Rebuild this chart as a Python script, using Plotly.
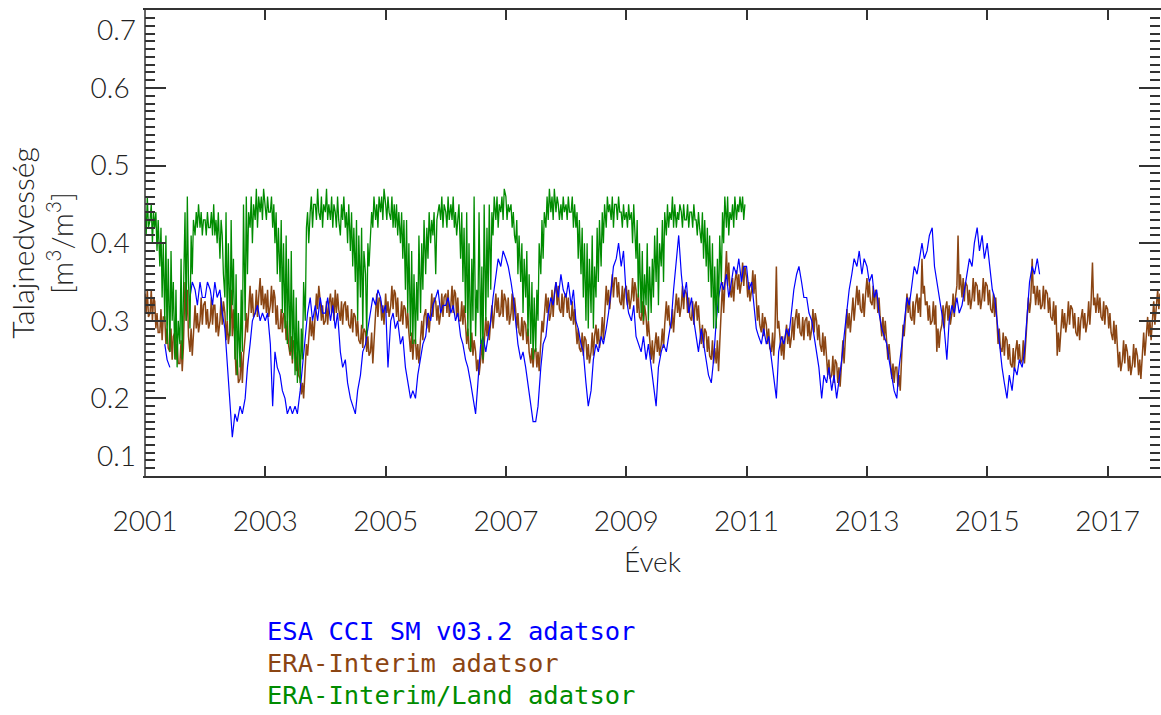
import plotly.graph_objects as go
import pandas as pd

START = "2001-01-01"

# ERA-Interim, 2001-2017, four samples per month (days 1, 8, 15, 22)
era_interim = [
    # 2001
    0.335,0.31,0.34,0.305, 0.31,0.34,0.30,0.33, 0.325,0.29,0.31,0.285, 0.285,0.315,0.275,0.305,
    0.305,0.27,0.29,0.265, 0.26,0.29,0.25,0.28, 0.285,0.25,0.27,0.245, 0.245,0.275,0.235,0.265,
    0.35,0.30,0.34,0.28, 0.26,0.29,0.255,0.285, 0.32,0.29,0.31,0.285, 0.30,0.33,0.295,0.32,
    # 2002
    0.325,0.295,0.315,0.29, 0.30,0.33,0.295,0.32, 0.32,0.285,0.31,0.28, 0.30,0.33,0.295,0.325,
    0.31,0.275,0.30,0.27, 0.29,0.34,0.28,0.315, 0.255,0.23,0.25,0.22, 0.225,0.26,0.22,0.255,
    0.28,0.31,0.285,0.32, 0.345,0.31,0.335,0.305, 0.31,0.34,0.305,0.33, 0.355,0.32,0.345,0.315,
    # 2003
    0.335,0.31,0.34,0.305, 0.32,0.345,0.31,0.34, 0.33,0.295,0.32,0.29, 0.29,0.315,0.285,0.31,
    0.305,0.275,0.30,0.27, 0.255,0.28,0.245,0.275, 0.265,0.235,0.26,0.23, 0.225,0.205,0.22,0.20,
    0.24,0.27,0.255,0.28, 0.305,0.28,0.30,0.275, 0.31,0.335,0.315,0.345, 0.325,0.30,0.32,0.295,
    # 2004
    0.30,0.325,0.295,0.32, 0.335,0.31,0.33,0.30, 0.34,0.31,0.335,0.315, 0.30,0.325,0.295,0.32,
    0.325,0.30,0.32,0.295, 0.29,0.315,0.285,0.31, 0.305,0.28,0.30,0.275, 0.27,0.295,0.265,0.29,
    0.285,0.26,0.28,0.255, 0.26,0.285,0.245,0.28, 0.31,0.335,0.305,0.33, 0.325,0.30,0.32,0.295,
    # 2005
    0.335,0.31,0.325,0.305, 0.32,0.345,0.315,0.34, 0.335,0.305,0.33,0.30, 0.30,0.325,0.295,0.32,
    0.315,0.29,0.31,0.285, 0.26,0.285,0.25,0.275, 0.275,0.25,0.27,0.245, 0.28,0.30,0.275,0.305,
    0.315,0.29,0.31,0.285, 0.31,0.335,0.305,0.33, 0.325,0.30,0.32,0.295, 0.31,0.335,0.305,0.33,
    # 2006
    0.335,0.31,0.34,0.305, 0.32,0.345,0.31,0.34, 0.335,0.305,0.33,0.30, 0.30,0.325,0.295,0.32,
    0.295,0.27,0.29,0.265, 0.26,0.285,0.255,0.275, 0.26,0.235,0.25,0.23, 0.25,0.275,0.245,0.27,
    0.305,0.28,0.30,0.275, 0.295,0.32,0.29,0.315, 0.335,0.31,0.33,0.305, 0.31,0.34,0.305,0.335,
    # 2007
    0.325,0.30,0.33,0.295, 0.31,0.335,0.30,0.33, 0.315,0.29,0.31,0.285, 0.28,0.305,0.275,0.30,
    0.295,0.27,0.29,0.26, 0.245,0.265,0.24,0.26, 0.265,0.24,0.26,0.235, 0.28,0.30,0.285,0.305,
    0.335,0.31,0.33,0.30, 0.31,0.34,0.305,0.335, 0.35,0.32,0.345,0.315, 0.31,0.335,0.305,0.33,
    # 2008
    0.335,0.31,0.33,0.305, 0.30,0.325,0.295,0.315, 0.295,0.27,0.29,0.265, 0.26,0.285,0.255,0.28,
    0.275,0.25,0.27,0.245, 0.26,0.285,0.255,0.28, 0.295,0.27,0.29,0.265, 0.28,0.305,0.275,0.30,
    0.345,0.32,0.34,0.315, 0.335,0.36,0.33,0.355, 0.355,0.33,0.35,0.325, 0.32,0.345,0.315,0.34,
    # 2009
    0.345,0.32,0.34,0.315, 0.33,0.355,0.325,0.35, 0.34,0.31,0.335,0.305, 0.30,0.325,0.295,0.32,
    0.305,0.28,0.30,0.275, 0.25,0.275,0.245,0.265, 0.285,0.26,0.28,0.255, 0.27,0.29,0.265,0.295,
    0.325,0.30,0.32,0.295, 0.29,0.315,0.285,0.31, 0.335,0.31,0.33,0.305, 0.32,0.345,0.315,0.34,
    # 2010
    0.335,0.31,0.33,0.305, 0.30,0.325,0.295,0.32, 0.325,0.30,0.32,0.295, 0.27,0.295,0.265,0.29,
    0.285,0.26,0.28,0.255, 0.25,0.275,0.245,0.265, 0.245,0.275,0.235,0.27, 0.32,0.35,0.31,0.345,
    0.39,0.345,0.375,0.34, 0.33,0.355,0.325,0.35, 0.365,0.34,0.36,0.335, 0.35,0.375,0.345,0.37,
    # 2011
    0.355,0.33,0.35,0.325, 0.34,0.365,0.335,0.36, 0.325,0.30,0.32,0.295, 0.285,0.31,0.28,0.305,
    0.295,0.27,0.29,0.265, 0.26,0.285,0.255,0.28, 0.37,0.29,0.30,0.275, 0.255,0.28,0.25,0.275,
    0.295,0.27,0.29,0.265, 0.28,0.305,0.275,0.30, 0.315,0.29,0.31,0.285, 0.28,0.305,0.275,0.30,
    # 2012
    0.305,0.28,0.30,0.275, 0.29,0.315,0.285,0.31, 0.30,0.275,0.295,0.27, 0.26,0.285,0.255,0.28,
    0.255,0.23,0.25,0.225, 0.23,0.255,0.22,0.25, 0.245,0.22,0.24,0.215, 0.25,0.275,0.245,0.27,
    0.315,0.29,0.31,0.285, 0.305,0.33,0.30,0.325, 0.345,0.32,0.34,0.315, 0.31,0.335,0.305,0.33,
    # 2013
    0.355,0.33,0.35,0.325, 0.32,0.345,0.315,0.34, 0.335,0.31,0.33,0.305, 0.28,0.305,0.275,0.30,
    0.275,0.25,0.27,0.245, 0.225,0.245,0.22,0.24, 0.24,0.215,0.23,0.21, 0.27,0.295,0.28,0.30,
    0.335,0.31,0.33,0.305, 0.30,0.325,0.295,0.32, 0.335,0.31,0.33,0.305, 0.38,0.335,0.345,0.32,
    # 2014
    0.325,0.30,0.32,0.295, 0.30,0.325,0.295,0.32, 0.26,0.29,0.265,0.285, 0.295,0.32,0.29,0.315,
    0.325,0.30,0.32,0.295, 0.31,0.335,0.305,0.33, 0.345,0.41,0.34,0.36, 0.33,0.355,0.325,0.35,
    0.345,0.32,0.34,0.315, 0.33,0.355,0.325,0.35, 0.345,0.32,0.34,0.315, 0.33,0.355,0.325,0.35,
    # 2015
    0.345,0.32,0.34,0.315, 0.31,0.335,0.305,0.33, 0.295,0.27,0.29,0.265, 0.26,0.285,0.255,0.28,
    0.275,0.25,0.27,0.245, 0.24,0.265,0.235,0.26, 0.275,0.25,0.27,0.245, 0.25,0.275,0.245,0.27,
    0.30,0.33,0.31,0.325, 0.38,0.335,0.345,0.32, 0.345,0.32,0.34,0.315, 0.32,0.345,0.315,0.34,
    # 2016
    0.335,0.31,0.33,0.305, 0.30,0.325,0.295,0.32, 0.255,0.285,0.26,0.28, 0.315,0.29,0.31,0.285,
    0.30,0.325,0.295,0.32, 0.315,0.29,0.31,0.285, 0.28,0.305,0.275,0.30, 0.315,0.29,0.31,0.285,
    0.30,0.325,0.295,0.32, 0.375,0.32,0.33,0.31, 0.335,0.31,0.33,0.305, 0.30,0.325,0.295,0.32,
    # 2017
    0.315,0.29,0.31,0.285, 0.275,0.30,0.27,0.295, 0.265,0.24,0.26,0.235, 0.25,0.275,0.245,0.27,
    0.26,0.235,0.255,0.23, 0.245,0.27,0.24,0.265, 0.255,0.23,0.25,0.225, 0.26,0.285,0.255,0.28,
    0.305,0.28,0.30,0.275, 0.30,0.325,0.295,0.32, 0.34,0.315,0.335,0.31, 0.315,0.34,0.31,0.335,
]

# ERA-Interim/Land, 2001-2010, four samples per month
era_land = [
    # 2001
    0.44,0.41,0.46,0.42, 0.43,0.45,0.40,0.44, 0.42,0.44,0.39,0.43, 0.37,0.42,0.33,0.40,
    0.30,0.41,0.27,0.38, 0.26,0.39,0.30,0.35, 0.25,0.34,0.24,0.30, 0.27,0.38,0.25,0.33,
    0.44,0.30,0.46,0.35, 0.29,0.41,0.36,0.43, 0.41,0.44,0.42,0.45, 0.42,0.44,0.41,0.43,
    # 2002
    0.43,0.41,0.44,0.42, 0.42,0.44,0.41,0.45, 0.41,0.43,0.40,0.44, 0.38,0.43,0.41,0.36,
    0.33,0.44,0.30,0.40, 0.28,0.43,0.32,0.38, 0.25,0.36,0.23,0.31, 0.24,0.34,0.26,0.45,
    0.30,0.46,0.36,0.44, 0.42,0.46,0.40,0.45, 0.43,0.47,0.42,0.46, 0.44,0.46,0.43,0.47,
    # 2003
    0.45,0.43,0.46,0.44, 0.44,0.46,0.42,0.45, 0.40,0.44,0.36,0.42, 0.35,0.43,0.31,0.40,
    0.29,0.41,0.27,0.38, 0.26,0.39,0.25,0.34, 0.23,0.33,0.22,0.30, 0.22,0.29,0.25,0.35,
    0.30,0.42,0.44,0.40, 0.44,0.46,0.42,0.45, 0.45,0.43,0.47,0.44, 0.43,0.46,0.42,0.45,
    # 2004
    0.44,0.47,0.43,0.45, 0.43,0.46,0.42,0.45, 0.44,0.42,0.46,0.43, 0.41,0.45,0.43,0.46,
    0.42,0.44,0.40,0.45, 0.39,0.44,0.37,0.42, 0.35,0.43,0.30,0.41, 0.33,0.42,0.29,0.39,
    0.36,0.28,0.40,0.37, 0.41,0.44,0.42,0.46, 0.43,0.45,0.42,0.46, 0.44,0.46,0.43,0.47,
    # 2005
    0.45,0.43,0.46,0.44, 0.43,0.46,0.42,0.45, 0.42,0.45,0.41,0.44, 0.40,0.44,0.38,0.43,
    0.34,0.43,0.31,0.40, 0.28,0.39,0.27,0.36, 0.27,0.35,0.30,0.41, 0.31,0.40,0.34,0.43,
    0.36,0.42,0.38,0.44, 0.40,0.43,0.41,0.44, 0.36,0.43,0.44,0.45, 0.43,0.46,0.42,0.45,
    # 2006
    0.44,0.42,0.46,0.43, 0.45,0.43,0.46,0.42, 0.44,0.41,0.43,0.45, 0.38,0.44,0.35,0.42,
    0.31,0.44,0.28,0.40, 0.26,0.38,0.30,0.46, 0.28,0.34,0.31,0.44, 0.27,0.37,0.25,0.45,
    0.30,0.42,0.33,0.45, 0.34,0.44,0.41,0.46, 0.43,0.46,0.42,0.45, 0.44,0.46,0.43,0.47,
    # 2007
    0.46,0.43,0.45,0.44, 0.45,0.42,0.44,0.41, 0.40,0.43,0.36,0.41, 0.35,0.40,0.31,0.38,
    0.33,0.39,0.28,0.36, 0.27,0.35,0.25,0.33, 0.26,0.34,0.30,0.40, 0.36,0.43,0.38,0.44,
    0.42,0.46,0.43,0.47, 0.44,0.46,0.43,0.47, 0.44,0.46,0.45,0.43, 0.45,0.43,0.46,0.44,
    # 2008
    0.45,0.43,0.46,0.44, 0.44,0.46,0.42,0.45, 0.42,0.44,0.38,0.43, 0.36,0.42,0.33,0.40,
    0.30,0.40,0.29,0.38, 0.31,0.41,0.29,0.37, 0.33,0.42,0.35,0.43, 0.37,0.44,0.40,0.45,
    0.42,0.46,0.44,0.45, 0.43,0.46,0.42,0.45, 0.45,0.43,0.46,0.44, 0.44,0.42,0.45,0.43,
    # 2009
    0.44,0.42,0.45,0.43, 0.44,0.40,0.45,0.41, 0.38,0.43,0.33,0.40, 0.31,0.39,0.30,0.36,
    0.32,0.40,0.30,0.37, 0.31,0.38,0.33,0.41, 0.35,0.42,0.32,0.40, 0.37,0.43,0.35,0.44,
    0.41,0.45,0.42,0.44, 0.43,0.46,0.42,0.45, 0.42,0.44,0.43,0.45, 0.44,0.42,0.45,0.43,
    # 2010
    0.43,0.45,0.42,0.44, 0.44,0.42,0.45,0.43, 0.43,0.41,0.44,0.42, 0.40,0.44,0.38,0.43,
    0.37,0.42,0.35,0.41, 0.33,0.40,0.29,0.37, 0.29,0.38,0.31,0.41, 0.35,0.44,0.40,0.46,
    0.42,0.46,0.41,0.44, 0.43,0.45,0.42,0.46, 0.43,0.45,0.44,0.46, 0.44,0.46,0.43,0.45,
]

# ESA CCI SM v03.2, 2001-2015, two samples per month (days 1, 15); None = missing
esa_cci = [
    None,None,None,None,None,None,None,None,0.27,0.25,0.24,None,None,None,None,None,None,None,0.33,0.35,0.34,0.32,0.35,0.33,
    0.33,0.35,0.34,0.32,0.35,0.33,0.34,0.31,0.29,0.25,0.20,0.15,0.18,0.17,0.19,0.18,0.20,0.24,0.27,0.30,0.31,0.32,0.30,0.31,
    0.30,0.31,0.27,0.19,0.26,0.24,0.23,0.21,0.20,0.18,0.19,0.18,0.19,0.18,0.21,0.24,0.28,0.31,0.33,0.30,0.32,0.30,0.33,0.31,
    0.31,0.33,0.30,0.32,0.29,0.31,0.26,0.24,0.25,0.22,0.20,0.19,0.18,0.21,0.23,0.26,0.27,0.29,0.31,0.33,0.32,0.34,0.33,0.31,
    0.32,0.24,0.30,0.31,0.29,0.30,0.27,0.28,0.24,0.22,0.20,0.21,0.20,0.23,0.25,0.27,0.28,0.31,0.30,0.32,0.33,0.34,0.31,0.32,
    0.32,0.33,0.31,0.32,0.30,0.31,0.28,0.27,0.25,0.24,0.22,0.20,0.18,0.22,0.27,0.28,0.26,0.28,0.30,0.33,0.36,0.38,0.37,0.39,
    0.38,0.37,0.35,0.33,0.30,0.27,0.25,0.26,0.24,0.22,0.19,0.17,0.17,0.19,0.24,0.27,0.28,0.31,0.33,0.32,0.35,0.33,0.36,0.34,
    0.33,0.35,0.32,0.34,0.30,0.29,0.27,0.26,0.22,0.19,0.21,0.25,0.27,0.26,0.28,0.27,0.29,0.31,0.34,0.37,0.38,0.40,0.37,0.39,
    0.33,0.31,0.30,0.32,0.28,0.27,0.26,0.28,0.25,0.27,0.24,0.22,0.19,0.24,0.26,0.27,0.26,0.28,0.30,0.34,0.38,0.41,0.36,0.33,
    0.35,0.31,0.33,0.30,0.28,0.26,0.29,0.27,0.25,0.23,0.22,0.25,0.30,0.33,0.35,0.34,0.36,0.33,0.35,0.37,0.36,0.38,0.35,0.37,
    0.37,0.34,0.35,0.32,0.29,0.28,0.27,0.29,0.27,0.28,0.25,0.23,0.20,0.26,0.28,0.27,0.29,0.28,0.31,0.34,0.36,0.37,0.35,0.33,
    0.33,0.31,0.30,0.28,0.26,0.24,0.20,0.23,0.22,0.24,0.21,0.23,0.20,0.22,0.25,0.28,0.31,0.34,0.36,0.38,0.37,0.39,0.36,0.38,
    0.37,0.35,0.36,0.33,0.34,0.31,0.29,0.28,0.27,0.25,0.23,0.21,0.20,0.24,0.27,0.30,0.33,0.32,0.35,0.37,0.36,0.38,0.40,0.38,
    0.39,0.41,0.42,0.37,0.35,0.33,0.31,0.29,0.25,0.30,0.32,0.31,0.33,0.31,0.32,0.34,0.36,0.38,0.37,0.40,0.42,0.39,0.41,0.38,
    0.40,0.37,0.34,0.33,0.30,0.27,0.24,0.22,0.20,0.23,0.21,0.24,0.23,0.25,0.24,0.26,0.31,0.35,0.37,0.36,0.38,0.36,None,None,
]

y_ticks = [0.1, 0.2, 0.3, 0.4, 0.5, 0.6, 0.7]
y_inner_labels = ["", "0.2", "0.3", "0.4", "0.5", "0.6", ""]
legend_labels = ["ESA CCI SM v03.2 adatsor", "ERA-Interim adatsor", "ERA-Interim/Land adatsor"]
colors = {"blue": "#0000FF", "brown": "#8B4513", "green": "#008C00"}


def weekly_dates(n):
    months = pd.date_range(START, periods=n // 4, freq="MS")
    return [m + pd.Timedelta(days=d) for m in months for d in (0, 7, 14, 21)]


def semimonthly_dates(n):
    return pd.date_range(START, periods=n, freq="SMS")


fig = go.Figure()
fig.add_trace(go.Scatter(x=weekly_dates(len(era_interim)), y=era_interim, mode="lines",
                         line=dict(color=colors["brown"], width=1.5), showlegend=False))
fig.add_trace(go.Scatter(x=semimonthly_dates(len(esa_cci)), y=esa_cci, mode="lines",
                         line=dict(color=colors["blue"], width=1.2), showlegend=False))
fig.add_trace(go.Scatter(x=weekly_dates(len(era_land)), y=era_land, mode="lines",
                         line=dict(color=colors["green"], width=1.3), showlegend=False))
# empty placeholder traces so that the two label-only axes are drawn
for ax in ("y2", "y3"):
    fig.add_trace(go.Scatter(x=[None], y=[None], yaxis=ax, mode="lines",
                             showlegend=False, hoverinfo="skip"))

AX = "#333333"
Y_RANGE = [0.1, 0.7005]
tick_font = dict(family="Lato, Roboto, sans-serif", size=28, color="#222222", weight=300)

# end labels (0.7 and 0.1) sit just inside the frame, as in the original
end_axis = dict(range=Y_RANGE, overlaying="y", side="left", anchor="x",
                ticks="", showline=False, showgrid=False, zeroline=False,
                automargin=False, tickfont=tick_font, ticklabelstandoff=8,
                ticklabeloverflow="allow")

fig.update_layout(
    width=1161, height=715,
    margin=dict(l=145, r=1, t=10, b=239, autoexpand=False),
    paper_bgcolor="white", plot_bgcolor="white",
    xaxis=dict(
        range=["2001-01-01", "2017-11-15"],
        tick0="2001-01-01", dtick="M24", tickformat="%Y",
        ticks="inside", ticklen=10, tickwidth=1.5, tickcolor=AX,
        showline=True, linecolor=AX, linewidth=1.5, mirror="ticks",
        showgrid=False, zeroline=False, automargin=False,
        tickfont=tick_font, ticklabelstandoff=20,
        title=dict(text="Évek", font=tick_font, standoff=16),
    ),
    yaxis=dict(
        range=Y_RANGE, tickvals=y_ticks, ticktext=y_inner_labels,
        ticks="inside", ticklen=21, tickwidth=1.5, tickcolor=AX,
        minor=dict(dtick=0.01, ticks="inside", ticklen=10, tickwidth=1.5, tickcolor=AX),
        showline=True, linecolor="rgba(0,0,0,0)", linewidth=1.5, mirror="ticks",
        showgrid=False, zeroline=False, automargin=False,
        tickfont=tick_font, ticklabelstandoff=8, ticklabeloverflow="allow",
        title=dict(text="Talajnedvesség<br>[m<sup>3</sup>/m<sup>3</sup>]",
                   font=dict(family="Lato, Roboto, sans-serif", size=30, color="#222222", weight=300),
                   standoff=8),
    ),
    yaxis2=dict(end_axis, tickvals=[y_ticks[-1]], ticktext=["0.7"], ticklabelposition="outside bottom"),
    yaxis3=dict(end_axis, tickvals=[y_ticks[0]], ticktext=["0.1"], ticklabelposition="outside top"),
    shapes=[dict(type="line", xref="paper", yref="paper", x0=0, x1=0, y0=0, y1=1,
                 line=dict(color=AX, width=1.5))],
)

legend_colors = [colors["blue"], colors["brown"], colors["green"]]
legend_y_px = [631, 663, 695]
for label, col, ypx in zip(legend_labels, legend_colors, legend_y_px):
    fig.add_annotation(text=label, xref="paper", yref="paper",
                       x=(265 - 145) / 1015, y=(476 - ypx) / 466,
                       xanchor="left", yanchor="middle", showarrow=False,
                       font=dict(family="DejaVu Sans Mono, monospace", size=25.5, color=col))

fig.write_html("out.html")
